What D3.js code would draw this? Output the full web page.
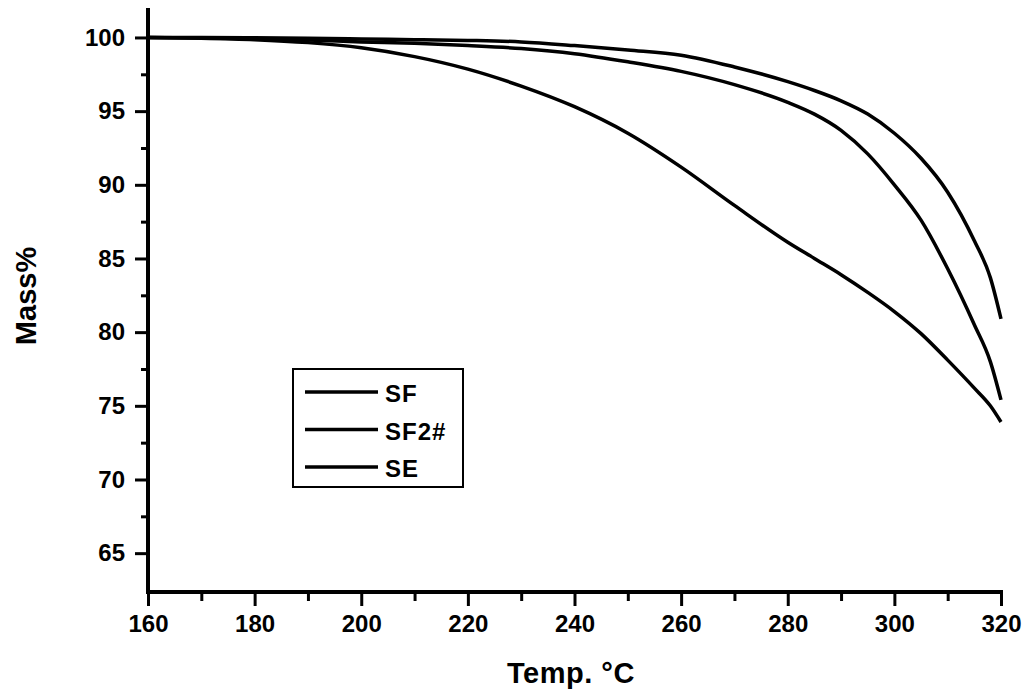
<!DOCTYPE html>
<html>
<head>
<meta charset="utf-8">
<script src="https://cdn.jsdelivr.net/npm/d3@7"></script>
<style>
  body { margin: 0; background: #fff; }
  svg { display: block; font-family: "Liberation Sans", Arial, sans-serif; }
</style>
</head>
<body>
<svg id="chart" width="1025" height="697"></svg>
<script>
// temperatures (°C) shared by every curve
const temps = [160, 170, 180, 190, 200, 210, 220, 230, 240, 250, 260, 270, 280, 285, 290, 295, 300, 305, 310, 315, 318, 320]

const sf   = [100, 100, 99.98, 99.95, 99.9, 99.85, 99.8, 99.7, 99.45, 99.15, 98.8, 98.0, 97.0, 96.4, 95.7, 94.8, 93.5, 91.8, 89.5, 86.2, 83.7, 80.9]
const sf2  = [100, 99.97, 99.92, 99.82, 99.7, 99.6, 99.45, 99.25, 98.9, 98.35, 97.7, 96.8, 95.6, 94.8, 93.7, 92.1, 90.0, 87.6, 84.3, 80.5, 78.0, 75.4]
const se   = [100, 99.95, 99.85, 99.65, 99.3, 98.7, 97.85, 96.7, 95.3, 93.5, 91.2, 88.6, 86.1, 85.0, 83.9, 82.7, 81.4, 79.9, 78.1, 76.2, 75.0, 73.9]

const seriesNames = ["SF", "SF2#", "SE"]
const seriesValues = [sf, sf2, se]

const xMajor = [160, 180, 200, 220, 240, 260, 280, 300, 320]
const xMinor = [170, 190, 210, 230, 250, 270, 290, 310]
const yMajor = [65, 70, 75, 80, 85, 90, 95, 100]
const yMinor = [67.5, 72.5, 77.5, 82.5, 87.5, 92.5, 97.5]

const svg = d3.select("#chart")

const x = d3.scaleLinear().domain([160, 320]).range([148, 1001])
const y = d3.scaleLinear().domain([62.5, 102]).range([590, 8])
const yBase = 592

// axes
const xAxis = svg.append("g").attr("transform", `translate(0,${yBase})`)
xAxis.call(d3.axisBottom(x).tickValues(xMajor).tickSize(14).tickPadding(9).tickFormat(d3.format("d")))
xAxis.append("g").call(d3.axisBottom(x).tickValues(xMinor).tickSize(9).tickFormat(""))

const yAxis = svg.append("g").attr("transform", `translate(${x(160)},0)`)
yAxis.call(d3.axisLeft(y).tickValues(yMajor).tickSize(13).tickPadding(10).tickFormat(d3.format("d")))
yAxis.append("g").call(d3.axisLeft(y).tickValues(yMinor).tickSize(7).tickFormat(""))

svg.selectAll(".tick line").attr("stroke", "#000").attr("stroke-width", 3)
svg.selectAll(".tick text")
  .attr("fill", "#000")
  .style("font-size", "24px")
  .style("font-weight", "bold")
svg.selectAll(".domain").remove()

// plain axis lines
svg.append("line").attr("x1", x(160) - 2).attr("x2", x(320) + 2).attr("y1", yBase).attr("y2", yBase)
  .attr("stroke", "#000").attr("stroke-width", 4)
svg.append("line").attr("x1", x(160)).attr("x2", x(160)).attr("y1", y(102)).attr("y2", yBase)
  .attr("stroke", "#000").attr("stroke-width", 4)

// curves
const line = d3.line()
  .x((d, i) => x(temps[i]))
  .y(d => y(d))
  .curve(d3.curveMonotoneX)

svg.append("g")
  .selectAll("path")
  .data(seriesValues)
  .join("path")
  .attr("d", line)
  .attr("fill", "none")
  .attr("stroke", "#000")
  .attr("stroke-width", 3.5)

// axis titles
svg.append("text")
  .attr("transform", "translate(36,296) rotate(-90)")
  .attr("text-anchor", "middle")
  .style("font-size", "29px")
  .style("font-weight", "bold")
  .text("Mass%")

svg.append("text")
  .attr("x", 571)
  .attr("y", 683)
  .attr("text-anchor", "middle")
  .style("font-size", "29px")
  .style("font-weight", "bold")
  .style("letter-spacing", "0.5px")
  .text("Temp. °C")

// legend
const legend = svg.append("g").attr("transform", "translate(293,369)")
legend.append("rect")
  .attr("width", 170).attr("height", 118)
  .attr("fill", "#fff").attr("stroke", "#000").attr("stroke-width", 2)

seriesNames.forEach((name, i) => {
  const ly = 23 + i * 37.5
  legend.append("line")
    .attr("x1", 12).attr("x2", 85).attr("y1", ly).attr("y2", ly)
    .attr("stroke", "#000").attr("stroke-width", 3.5)
  legend.append("text")
    .attr("x", 92).attr("y", ly + 10)
    .style("font-size", "24px")
    .style("font-weight", "bold")
    .style("letter-spacing", "1px")
    .text(name)
})
</script>
</body>
</html>
